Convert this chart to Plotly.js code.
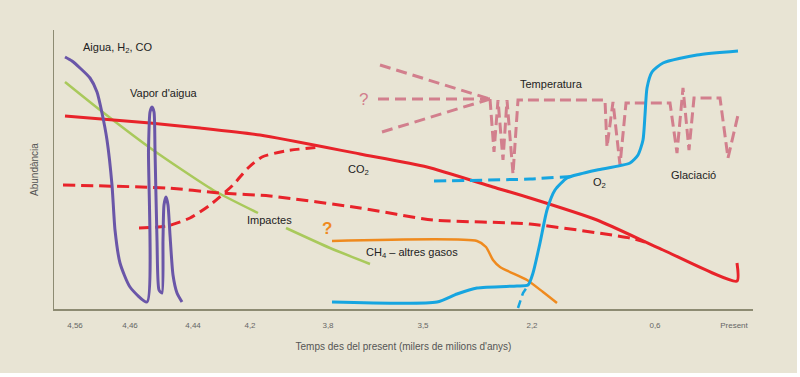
<!DOCTYPE html>
<html>
<head>
<meta charset="utf-8">
<script src="https://cdn.plot.ly/plotly-3.0.1.min.js"></script>
<style>
html,body{margin:0;padding:0;background:#ffffff;}
#chart{position:absolute;left:0;top:0;width:797px;height:373px;}
</style>
</head>
<body>
<div id="chart"></div>
<script>
// Horizontal position scale (arbitrary units) with time labels
const tickPos = [75, 130, 193, 250, 328, 423, 532, 655, 734];
const tickLabels = ["4,56", "4,46", "4,44", "4,2", "3,8", "3,5", "2,2", "0,6", "Present"];

// Aigua, H2, CO + Vapor d'aigua (purple)
const aiguaX = [65, 72, 80, 90, 97, 102, 107, 112, 115, 120, 130, 147, 148.5, 150, 152, 154, 155, 157, 159, 162, 163, 164, 166, 168, 170, 173, 177, 182];
const aiguaY = [252, 248, 241, 231, 217, 196, 169, 124, 79, 46, 22, 7, 159, 197, 202, 197, 159, 69, 19, 16, 69, 104, 112, 104, 74, 34, 16, 7];

// Impactes (green)
const impX = [65, 100, 153, 213, 258, null, 286, 330, 370];
const impY = [227, 199, 159, 119, 96, null, 81, 61, 45];

// CO2 solid (red)
const co2X = [65, 150, 200, 260, 360, 427, 493, 530, 597, 663, 737, 737];
const co2Y = [193, 186, 181, 174, 155, 142, 122, 111, 89, 59, 28, 46];

// CO2 dashed long (red)
const co2dX = [63, 167, 220, 270, 360, 433, 530, 630, 645];
const co2dY = [124, 121, 116, 113, 101, 89, 85, 71, 67];

// CO2 dashed rising (red)
const co2rX = [139, 167, 190, 210, 233, 248, 262, 285, 320];
const co2rY = [81, 83, 91, 104, 124, 141, 152, 158, 162];

// CH4 - altres gasos (orange)
const ch4X = [332, 477, 486, 493, 500, 527, 543, 557];
const ch4Y = [68, 68, 62, 49, 42, 29, 17, 6];

// O2 solid (blue)
const o2X = [332, 437, 457, 477, 517, 528, 533, 540, 547, 555, 567, 580, 597, 630, 638, 643, 645, 647, 652, 663, 697, 738];
const o2Y = [7, 7, 15, 21, 23, 24, 36, 66, 99, 119, 131, 135, 139, 146, 154, 169, 194, 221, 237, 246, 254, 258];

// O2 dashed (blue)
const o2dX = [434, 530, 577];
const o2dY = [128, 130, 133];
const o2d2X = [518, 523, 529];
const o2d2Y = [1, 16, 25];

// Temperatura (pink dashed)
const tTopX = [380, 490], tTopY = [244, 210];
const tMidX = [378, 490], tMidY = [210, 210];
const tBotX = [382, 490], tBotY = [177, 210];
const tempX = [490, 494, 498, 503, 507, 513, 518, 605, 607, 613, 620, 626, 670, 677, 683, 689, 694, 720, 728, 738];
const tempY = [210, 157, 209, 149, 209, 135, 209, 209, 162, 207, 144, 206, 206, 156, 221, 159, 211, 211, 151, 194];

const purple = '#6a56a8', green = '#a9c95b', red = '#e8232a', orange = '#ef8a1e', blue = '#16a5e0', pink = '#d27f8d';

function tr(x, y, color, width, dash, shape) {
  return {x: x, y: y, mode: 'lines', type: 'scatter', hoverinfo: 'skip', connectgaps: false,
    line: {color: color, width: width, dash: dash || 'solid', shape: shape || 'linear', smoothing: 0.6}};
}

const traces = [
  tr(tTopX, tTopY, pink, 3, '11px,6px'),
  tr(tMidX, tMidY, pink, 3, '11px,6px'),
  tr(tBotX, tBotY, pink, 3, '11px,6px'),
  tr(tempX, tempY, pink, 3, '11px,5px'),
  tr(impX, impY, green, 2.5, 'solid', 'spline'),
  tr(co2dX, co2dY, red, 3, '12px,6px', 'spline'),
  tr(co2rX, co2rY, red, 3, '10px,6px', 'spline'),
  tr(co2X, co2Y, red, 3, 'solid', 'spline'),
  tr(ch4X, ch4Y, orange, 2.5, 'solid', 'spline'),
  tr(o2dX, o2dY, blue, 3, '12px,6px', 'spline'),
  tr(o2d2X, o2d2Y, blue, 2.5, '8px,5px'),
  tr(o2X, o2Y, blue, 3, 'solid', 'spline'),
  tr(aiguaX, aiguaY, purple, 3, 'solid', 'spline')
];

const txtFont = {family: 'Liberation Sans, Arial, sans-serif', size: 11, color: '#222'};
function ann(x, y, text, extra) {
  return Object.assign({x: x, y: y, text: text, showarrow: false, xanchor: 'left', yanchor: 'middle', font: txtFont}, extra || {});
}

const annotations = [
  ann(81, 261, 'Aigua, H<sub>2</sub>, CO'),
  ann(128, 216, "Vapor d'aigua"),
  ann(346, 139, 'CO<sub>2</sub>'),
  ann(245, 89, 'Impactes'),
  ann(364, 56, 'CH<sub>4</sub> – altres gasos'),
  ann(518, 225, 'Temperatura'),
  ann(591, 126, 'O<sub>2</sub>'),
  ann(669, 134, 'Glaciació'),
  ann(327, 81, '<b>?</b>', {xanchor: 'center', font: {family: 'Liberation Sans, Arial, sans-serif', size: 17, color: orange}}),
  ann(363, 210, '?', {xanchor: 'center', font: {family: 'Liberation Sans, Arial, sans-serif', size: 17, color: pink}})
];

const layout = {
  width: 797, height: 373,
  margin: {l: 54, r: 44, t: 30, b: 64},
  paper_bgcolor: '#e8e4d4',
  plot_bgcolor: '#e8e4d4',
  showlegend: false,
  font: {family: 'Liberation Sans, Arial, sans-serif'},
  xaxis: {
    range: [54, 753], showgrid: false, zeroline: false, fixedrange: true,
    showline: true, linecolor: '#8d8b72', linewidth: 1.5,
    tickmode: 'array', tickvals: tickPos, ticktext: tickLabels, ticks: '',
    tickfont: {size: 8, color: '#666'}, ticklabelstandoff: 8,
    title: {text: "Temps des del present (milers de milions d'anys)", font: {size: 10, color: '#555'}, standoff: 14}
  },
  yaxis: {
    range: [0, 279], showgrid: false, zeroline: false, fixedrange: true,
    showline: true, linecolor: '#8d8b72', linewidth: 1.5,
    showticklabels: false, ticks: '',
    title: {text: 'Abundància', font: {size: 10, color: '#555'}, standoff: 12}
  },
  annotations: annotations
};

Plotly.newPlot('chart', traces, layout, {displayModeBar: false, staticPlot: true});
</script>
</body>
</html>
